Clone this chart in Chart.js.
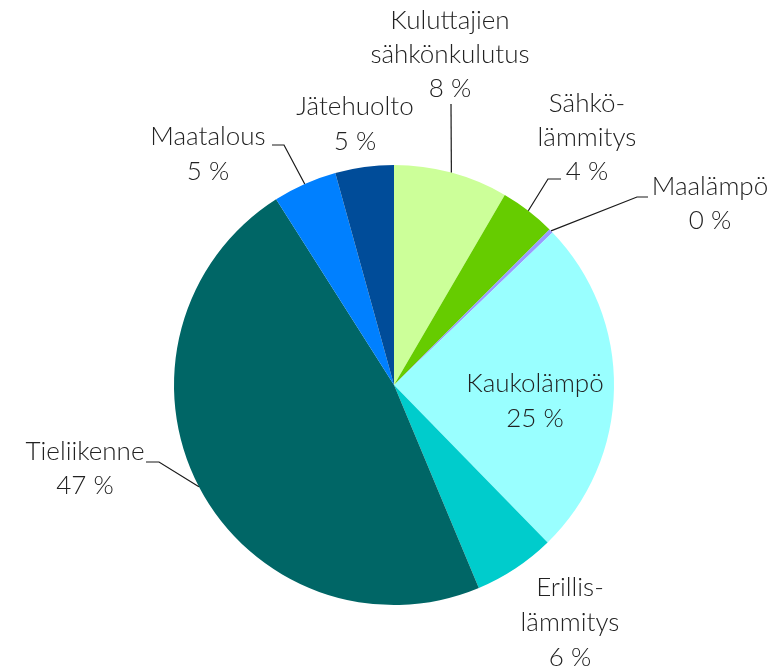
<!DOCTYPE html>
<html>
<head>
<meta charset="utf-8">
<script src="https://cdn.jsdelivr.net/npm/chart.js@4/dist/chart.umd.min.js"></script>
<style>
html,body{margin:0;padding:0;background:#fff;}
#c{display:block;}
</style>
</head>
<body>
<canvas id="c" width="777" height="668"></canvas>
<script>
// Data
const categories = ["Kuluttajien sähkönkulutus","Sähkölämmitys","Maalämpö","Kaukolämpö","Erillislämmitys","Tieliikenne","Maatalous","Jätehuolto"];
const shares = [8.4, 4.1, 0.3, 24.9, 6.0, 47.3, 4.7, 4.3];
const shareLabels = ["8 %","4 %","0 %","25 %","6 %","47 %","5 %","5 %"];
const labelLines = [["Kuluttajien","sähkönkulutus"],["Sähkö-","lämmitys"],["Maalämpö"],["Kaukolämpö"],["Erillis-","lämmitys"],["Tieliikenne"],["Maatalous"],["Jätehuolto"]];
const colors = ["#CCFF99","#66CC00","#9999FF","#99FFFF","#00CCCC","#006666","#0080FF","#004C99"];

// Layout of labels (positions only)
const labelLayout = [
  {x:450, y:21, lh:34, leader:[[451,104]]},
  {x:587, y:104, lh:34, leader:[[561,179],[548,179]]},
  {x:710, y:187, lh:34, leader:[[648,197],[637,197]]},
  {x:535, y:384, lh:35, leader:null},
  {x:570, y:588, lh:35, leader:null},
  {x:85, y:452, lh:34, leader:[[146,462],[159,462]]},
  {x:208, y:137, lh:35, leader:[[272,145],[284,145]]},
  {x:355, y:107, lh:35, leader:null}
];

const FONT = "300 26px Lato, 'Open Sans', sans-serif";

const labelPlugin = {
  id:'labelPlugin',
  afterDraw(chart){
    const ctx = chart.ctx;
    const meta = chart.getDatasetMeta(0);
    ctx.save();
    ctx.strokeStyle = "#1a1a1a";
    ctx.lineWidth = 1.2;
    meta.data.forEach((arc, i) => {
      const L = labelLayout[i];
      if (!L.leader) return;
      const p = arc.getProps(['x','y','startAngle','endAngle','outerRadius'], true);
      const mid = (p.startAngle + p.endAngle)/2;
      const ex = p.x + Math.cos(mid)*p.outerRadius;
      const ey = p.y + Math.sin(mid)*p.outerRadius;
      ctx.beginPath();
      ctx.moveTo(L.leader[0][0], L.leader[0][1]);
      for (let k=1;k<L.leader.length;k++) ctx.lineTo(L.leader[k][0], L.leader[k][1]);
      ctx.lineTo(ex, ey);
      ctx.stroke();
    });
    ctx.fillStyle = "#222";
    ctx.font = FONT;
    ctx.textAlign = "center";
    ctx.textBaseline = "middle";
    labelLines.forEach((lines, i) => {
      const L = labelLayout[i];
      const all = lines.concat([shareLabels[i]]);
      all.forEach((t, j) => ctx.fillText(t, L.x, L.y + j*L.lh));
    });
    ctx.restore();
  }
};

new Chart(document.getElementById('c'), {
  type:'pie',
  data:{
    labels: categories,
    datasets:[{
      data: shares,
      backgroundColor: colors,
      borderWidth: 0,
      hoverOffset: 0
    }]
  },
  options:{
    responsive:false,
    animation:false,
    layout:{padding:{left:174, right:163, top:165, bottom:63}},
    plugins:{legend:{display:false}, tooltip:{enabled:false}}
  },
  plugins:[labelPlugin]
});
</script>
</body>
</html>
